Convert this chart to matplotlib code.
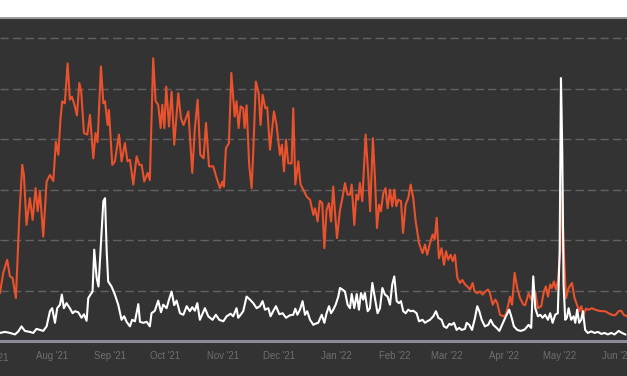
import matplotlib
matplotlib.use("Agg")
import matplotlib.pyplot as plt
import matplotlib.dates as mdates
import numpy as np
import pandas as pd
from matplotlib.patches import Rectangle
from matplotlib.lines import Line2D

start_date = "2021-07-01"

orange_days = [3, 4.8, 6.9, 8.4, 9.8, 11.6, 13.4, 15, 15.9, 17.3, 19.1, 20.6, 22.2, 23.3, 24.5, 26.3, 28.1, 29.9, 31.7, 33.1, 34.4, 35.6, 36.5, 37.9, 39.4, 40.6, 41.7, 43.1, 44.4, 45.7, 46.7, 48.2, 50, 51.4, 53.2, 54.4, 55.5, 57.3, 58.6,
               59.5, 60.9, 61.6, 63.4, 64.8, 67, 68.4, 70.2, 71.6, 72.9, 74.7, 76.5, 77.9, 79.2, 80.6, 82.4, 83.6, 84.5, 85.4, 86.7, 88.1, 89.4, 90.3, 91.4, 92.4, 93.9, 95.3, 96.7, 98.9, 100.3, 101.7, 104.3, 106.4, 107.8, 109.3, 110.7, 112.5, 113.8, 115.4,
               117.7, 119.5, 121.3, 122.7, 123.4, 124.5, 126.1, 127.4, 129.2, 130.2, 131.3, 132.4, 133.8, 134.5, 135.6, 137.0, 138.3, 139.2, 140.6, 142.1, 143.1, 144.2, 145.7, 146.7, 148.2, 150.3, 151.7, 153.5, 154.6, 155.7, 156.8, 158, 159.8, 160.7, 161.8, 163.4, 164.6, 166.1, 167.9, 169.7, 171.5,
               172.4, 173.8, 175.0, 176.3, 177.4, 178.6, 179.9, 181, 182.2, 183.1, 184.2, 185.8, 187.1, 188.5, 189.9, 191.2, 192.1, 193.5, 194.6, 195.6, 196.5, 197.8, 199.6, 201, 202, 203.5, 204.6, 205.7, 206.8, 207.8, 209.1, 210.3, 211.4, 212.7, 213.9, 215.0, 216.1, 217.2, 218.6, 219.7, 221.1, 222.5, 223.8, 225.2, 226.5, 228.3,
               230.2, 231.5, 232.7, 234.2, 235.6, 236.7, 237.8, 239, 240.4, 241.7, 242.8, 244, 245.3, 246.4, 247.6, 248.9, 250.3, 251.6, 253, 254.3, 255.7, 257.1, 258.2, 259.6, 261.1, 262.5, 263.9, 265.4, 266.4, 267.9, 269.3, 270.4, 271.8, 273.6, 275, 276.3, 277.2, 278.3, 279.7, 281.1, 282.6, 284.4,
               285.4, 287.2, 288.6, 289.9, 290.8, 292.2, 294, 295.4, 296.5, 297.6, 298.8, 299.7, 300.8, 301.9, 302.9, 304.2, 305.1, 306, 307.3, 308.7, 310.5, 311.9, 313.2, 314.4, 315.5, 316.8, 318, 319.4, 321.2, 323, 324.8, 326.6, 328.4, 330.2, 331.9, 333.8, 335.6, 337, 338.3, 340]
orange_vals = [9.5, 13.5, 16.1, 12.8, 12.5, 8.5, 24.4, 34.9, 32.9, 23, 28.3, 24, 30.3, 25.7, 29.6, 20.7, 31.6, 32.9, 31.7, 39.5, 36.9, 44.2, 47.5, 47.1, 55, 47.8, 48.4, 46.8, 44.7, 51.1, 49.4, 41.2, 40.9, 44.8, 36.2, 41.2, 39.4, 54.4, 47.1,
               47.5, 42.8, 45.8, 34.9, 35.6, 40.9, 35.6, 39.2, 35.6, 35.9, 31, 36.6, 34.9, 34.9, 31.6, 33.3, 31.9, 44.2, 56, 47.5, 46.8, 42.2, 46.8, 42.2, 50.4, 42.5, 49.4, 38.9, 49.1, 44.2, 42.8, 45.5, 33.3, 42.2, 47.8, 36.9, 36.2, 43.2, 34.6,
               34.6, 32.3, 30.3, 31.6, 30.6, 38.2, 39.2, 53.1, 44.5, 47.5, 42.2, 46.5, 46.1, 42.2, 46.7, 34.9, 30.3, 37.6, 51.4, 49.1, 42.8, 48.8, 46.1, 46.3, 37.9, 45.5, 42.8, 36.9, 38.9, 33.6, 39.9, 35.2, 35.2, 46.1, 31, 35.6, 31, 30, 28.6, 28, 25,
               26.3, 23.7, 27.8, 27.3, 18.4, 26, 27.3, 23.7, 30.6, 25.7, 20.4, 26, 28.3, 31.3, 29, 29, 31, 23, 29, 28, 31.3, 27.7, 40.9, 32.9, 25.7, 40.2, 32.3, 22.4, 27, 25.7, 29.3, 30.3, 26.3, 30, 26.7, 30, 26.7, 28, 27.7, 21.4, 27, 28.3, 31, 28.3, 23.7, 19.4,
               17.4, 19.1, 17.1, 19.4, 21.1, 20.1, 24.4, 16.4, 18.4, 15.1, 17.8, 16.1, 17.1, 15.8, 17.1, 12.5, 11.5, 12.1, 11.2, 10.8, 10.2, 11.5, 9.8, 9.5, 9.8, 9.2, 9.8, 10.2, 9.5, 7.2, 8.2, 7.5, 5.2, 4.9, 5.2, 7.2, 8.8, 7.2, 13.5, 10.5, 8.5, 7.2,
               7.1, 9.5, 8.2, 9.2, 9.8, 6.5, 6.9, 9.8, 10.8, 8.8, 11.2, 10.5, 11.8, 10.2, 11.8, 17.8, 29.6, 19.1, 8.5, 10.5, 11.5, 8.5, 7.2, 5.9, 6.9, 5.2, 6.4, 6.2, 6.5, 6.2, 6, 5.9, 5.9, 5.5, 5.2, 5.1, 5.9, 6, 5.2, 4.9]

white_days = [3, 5.7, 8.4, 11.1, 12.9, 14.6, 16.4, 19.1, 20.9, 22.7, 24.5, 26.3, 28.1, 29.9, 31.1, 32.6, 33.8, 35.3, 36.3, 37.4, 38.8, 40.6, 42.1, 43.3, 45.1, 46.9, 48.2, 49.6, 50.5, 51.7, 52.8, 53.7, 55, 56, 57.1, 58.6,
              59.5, 60.4, 61.2, 63, 64.8, 66.6, 68.4, 69.8, 71.1, 72.9, 74.1, 75.6, 77.4, 78.3, 80.1, 81.9, 83.6, 84.5, 86.3, 88.1, 89.6, 90.8, 92.6, 93.9, 95.3, 96.7, 98, 99.8, 101.6, 103.4, 105.1, 106.4, 107.8, 109.1, 110.5, 112, 113.2, 115,
              117.3, 119.1, 120.9, 123.1, 124.9, 127, 128.4, 130.2, 131.1, 132.4, 133.8, 135.6, 137.4, 139.2, 141, 142.8, 144.2, 145.5, 147.3, 148.5, 149.9, 151.4, 153.2, 155, 156.8, 158.9, 160.7, 161.8, 162.9, 164.3, 165.7, 167, 168.2, 169.7, 171.5,
              172.4, 174.1, 176, 177.4, 178.6, 179.9, 181, 182.2, 183.5, 184.9, 185.8, 187.1, 188.5, 189.9, 191.2, 192.1, 193.5, 194.8, 196, 197.1, 198.3, 199.2, 200.7, 201.9, 203.2, 204.6, 206, 207.3, 208.6, 210, 211.4, 212.7, 213.9, 215, 216.3, 217.5, 218.6, 219.8, 221.1, 222.5, 223.8, 225.2, 227, 228.3,
              230.2, 231.5, 232.7, 234.2, 236, 237.4, 238.7, 240.4, 241.7, 243.1, 244.6, 245.8, 247.1, 248.5, 249.9, 251.2, 253, 253.9, 255.3, 256.8, 258.4, 259.6, 260.7, 262, 263.7, 265.5, 266.8, 268.2, 270, 271.5, 273.2, 275, 276.8, 278.1, 279.3, 281.1, 282.9,
              284.7, 285.4, 287.2, 288.6, 289.7, 290.8, 292.2, 293.5, 294.7, 296.1, 297.6, 298.8, 300.1, 301.5, 302.9, 303.9, 304.6, 305.3, 306, 306.9, 307.8, 308.7, 310.1, 311.4, 312.3, 313.3, 314.4, 315.5, 316.4, 317.6, 319, 320.9, 322.7, 324.5, 326.3, 328.0, 329.8, 331.6, 333.4, 335.6, 337.4, 339.2]
white_vals = [1.6, 1.8, 1.6, 1.3, 1.9, 2.9, 2, 1.8, 1.6, 2.4, 2.2, 2, 2.9, 5.9, 6.5, 3.6, 6.5, 7.2, 9.2, 6.5, 7.5, 6.5, 5.5, 5.9, 5.7, 4.6, 5.3, 4, 8.5, 9.2, 9.8, 18.1, 12.5, 10.8, 17.8, 27.7,
              28.3, 17.8, 11.8, 10.8, 9.2, 7.2, 4.2, 4.9, 3.8, 2.9, 4.2, 3.9, 7.3, 3.8, 3.6, 3.8, 2.9, 5.5, 6, 8, 5.7, 7.2, 6.5, 8.2, 9.8, 7.1, 8, 5.5, 5.2, 6.9, 5.9, 6.7, 6, 7.5, 4.2, 5.5, 6.5, 4.9,
              4.2, 5.2, 4.2, 3.9, 4.9, 5.4, 4.9, 6.5, 4.6, 5.2, 5.9, 8.8, 8.2, 7.5, 6.5, 6.9, 7.9, 6.2, 6.5, 4.9, 5.9, 6.9, 5.3, 5.5, 4.6, 5.1, 5.2, 6.4, 5.2, 6.2, 7.9, 5.2, 5.9, 4.2, 3.2,
              3.4, 3.6, 5.2, 3.6, 5.5, 6.9, 5.5, 6.2, 7.2, 8.8, 10.5, 10.2, 9.8, 7.2, 6.5, 9.3, 6.5, 9.3, 6.2, 9.5, 8.2, 9.5, 5.9, 6.5, 11.5, 8.5, 5.5, 6.5, 10.5, 9.2, 8.8, 7.2, 11.2, 12.8, 7.9, 7.5, 7.9, 5.9, 5.5, 6.2, 5.9, 6, 5.5, 3.9,
              4.2, 3.6, 3.9, 4.2, 4.9, 5.9, 4.6, 4.2, 2.9, 2.6, 3.4, 3.2, 3.6, 2.2, 2.6, 2.2, 2.4, 3.6, 3.2, 2.2, 4.6, 6.9, 5.9, 4.2, 2.9, 3.2, 4.2, 3.2, 2.6, 2, 3.4, 4.9, 6.2, 4.6, 2.9, 2.2, 2,
              2.2, 2.4, 3.2, 2.6, 12.8, 6.5, 4.9, 5.2, 4.6, 5.2, 4.2, 5.5, 3.6, 5.2, 5.5, 17.8, 52.1, 37.6, 11.2, 4.2, 4.6, 6.5, 4.2, 4.9, 3.6, 6.2, 3.6, 4.2, 5.9, 2.2, 1.6, 1.9, 1.6, 1.8, 1.4, 1.6, 1.3, 1.6, 1.3, 2, 1.6, 1.3]

gridlines = [10, 20, 30, 40, 50, 60]
tick_months = ["2021-08-01", "2021-09-01", "2021-10-01", "2021-11-01", "2021-12-01", "2022-01-01",
               "2022-02-01", "2022-03-01", "2022-04-01", "2022-05-01", "2022-06-01"]

BG = "#333333"
W, H = 627, 376
fig = plt.figure(figsize=(W / 100, H / 100), dpi=100, facecolor=BG)

# white top band
fig.patches.append(Rectangle((0, 1 - 17 / H), 1, 17 / H, transform=fig.transFigure,
                             facecolor="white", edgecolor="none", zorder=0))
fig.lines.append(Line2D([0, 1], [1 - 17.5 / H, 1 - 17.5 / H], transform=fig.transFigure,
                        color="#b0b0b0", lw=1.2, zorder=1))

ax = fig.add_axes([0, 35 / H, 1, (341 - 18) / H])
ax.set_facecolor(BG)

t0 = pd.Timestamp(start_date)
ox = t0 + pd.to_timedelta(orange_days, unit="D")
wx = t0 + pd.to_timedelta(white_days, unit="D")

for g in gridlines:
    ax.axhline(g, color="#626262", lw=1.0, ls=(0, (6, 3)), zorder=1)

ax.plot(ox, orange_vals, color="#e9522c", lw=1.5, solid_joinstyle="round", zorder=3)
ax.plot(wx, white_vals, color="#ffffff", lw=1.5, solid_joinstyle="round", zorder=4)

ax.set_xlim(t0 + pd.Timedelta(days=3.05), t0 + pd.Timedelta(days=340.1))
ax.set_ylim(0, 64)

for s in ["top", "right", "left"]:
    ax.spines[s].set_visible(False)
ax.spines["bottom"].set_color("#8a8d98")
ax.spines["bottom"].set_linewidth(2.2)

ticks = pd.to_datetime(tick_months)
ax.set_xticks(ticks)
ax.xaxis.set_major_formatter(mdates.DateFormatter("%b '%y"))
ax.tick_params(axis="x", length=0, pad=7, labelsize=6.9, labelcolor="#6f6f6f")
for lab in ax.get_xticklabels():
    lab.set_fontfamily("Liberation Sans")
ax.set_yticks([])

# partially visible first label
ax.text(pd.Timestamp("2021-07-01"), -0.0, "Jul '21", transform=ax.get_xaxis_transform(),
        ha="center", va="top", fontsize=6.9, color="#6f6f6f", family="Liberation Sans",
        clip_on=False)
ax.texts[-1].set_y(-0.037)

fig.savefig("out.png", dpi=100, facecolor=BG)
